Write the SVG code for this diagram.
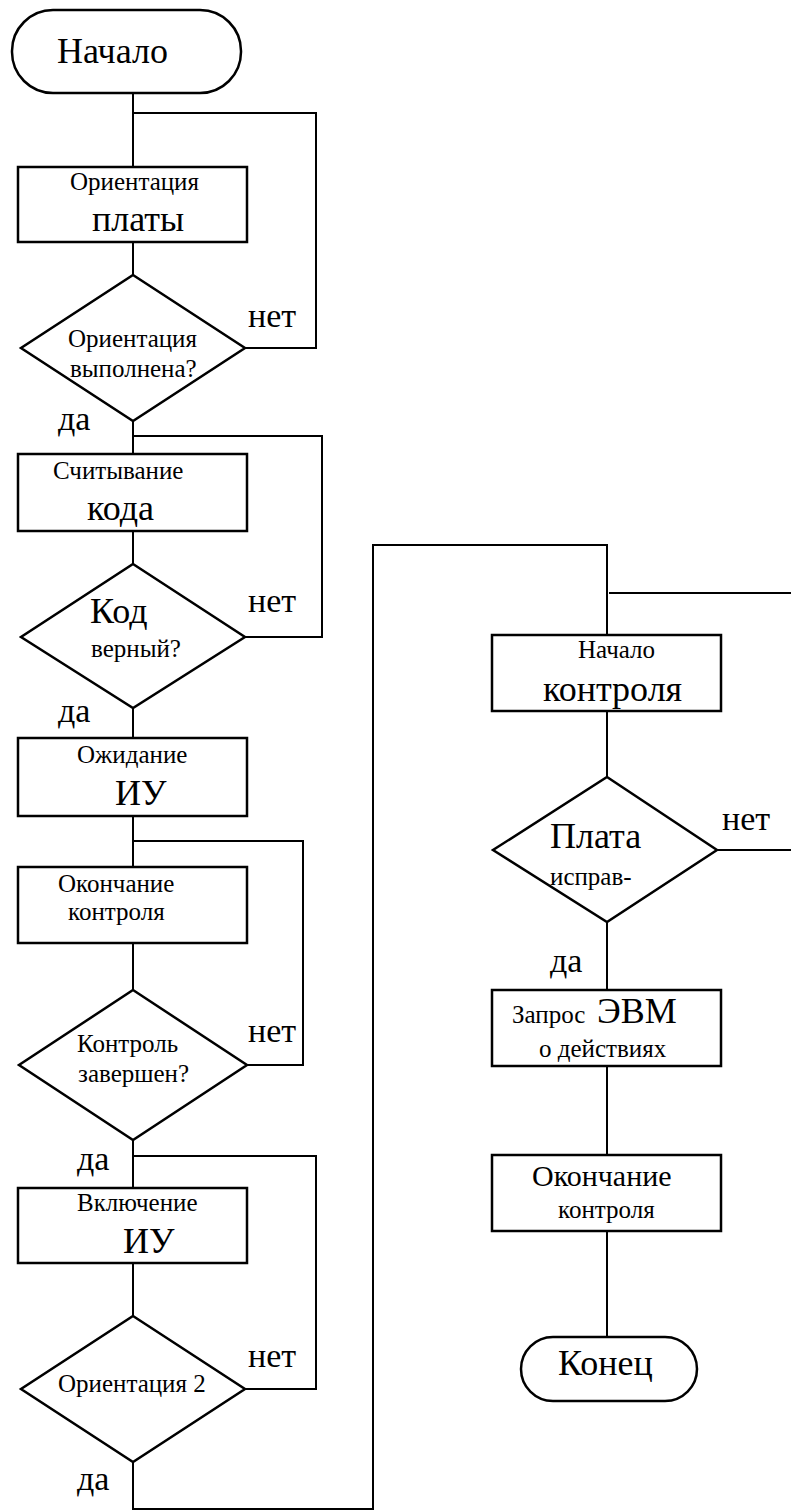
<svg xmlns="http://www.w3.org/2000/svg" width="791" height="1511" viewBox="0 0 791 1511">
<style>
text{font-family:"Liberation Serif","DejaVu Serif",serif;fill:#000}
.s{font-size:25px}
.m{font-size:30px}
.l{font-size:36px}
.lab{font-size:34px}
.box{fill:#fff;stroke:#000;stroke-width:2.5}
.dia{fill:none;stroke:#000;stroke-width:2.5}
.con{fill:none;stroke:#000;stroke-width:2}
</style>
<rect width="791" height="1511" fill="#fff"/>
<g id="connectors">
<path class="con" d="M133 93V167"/>
<path class="con" d="M133 113H316V348H245"/>
<path class="con" d="M133 242V275"/>
<path class="con" d="M133 421V454"/>
<path class="con" d="M133 436H322V637H245"/>
<path class="con" d="M133 531V564"/>
<path class="con" d="M133 708V738"/>
<path class="con" d="M133 816V867"/>
<path class="con" d="M133 841H303V1065H247"/>
<path class="con" d="M133 943V990"/>
<path class="con" d="M133 1140V1188"/>
<path class="con" d="M133 1156H316V1389H245"/>
<path class="con" d="M133 1263V1316"/>
<path class="con" d="M133 1462V1509H373V545H607V635"/>
<path class="con" d="M609 593H791"/>
<path class="con" d="M717 850H791"/>
<path class="con" d="M607 711V777"/>
<path class="con" d="M607 922V990"/>
<path class="con" d="M607 1066V1155"/>
<path class="con" d="M607 1231V1337"/>
<text class="lab" x="248" y="327">нет</text>
<text class="lab" x="58" y="430">да</text>
<text class="lab" x="248" y="612">нет</text>
<text class="lab" x="58" y="722">да</text>
<text class="lab" x="248" y="1042">нет</text>
<text class="lab" x="77" y="1170">да</text>
<text class="lab" x="248" y="1367">нет</text>
<text class="lab" x="77" y="1490">да</text>
<text class="lab" x="722" y="830">нет</text>
<text class="lab" x="550" y="972">да</text>
</g>
<g id="start">
<rect class="box" x="12" y="10" width="229" height="83" rx="41" ry="41"/>
<text class="l" x="57" y="63">Начало</text>
</g>
<g id="box1">
<rect class="box" x="18" y="167" width="229" height="75"/>
<text class="s" x="70" y="190">Ориентация</text>
<text class="l" x="92" y="231">платы</text>
</g>
<g id="dec1">
<polygon class="dia" points="133,275 245,348 133,421 21,348"/>
<text class="s" x="68" y="347">Ориентация</text>
<text class="s" x="70" y="377">выполнена?</text>
</g>
<g id="box2">
<rect class="box" x="18" y="454" width="229" height="77"/>
<text class="s" x="53" y="479">Считывание</text>
<text class="l" x="87" y="520">кода</text>
</g>
<g id="dec2">
<polygon class="dia" points="133,564 245,637 133,708 21,637"/>
<text class="l" x="90" y="623">Код</text>
<text class="s" x="91" y="657">верный?</text>
</g>
<g id="box3">
<rect class="box" x="18" y="738" width="229" height="78"/>
<text class="s" x="77" y="763">Ожидание</text>
<text class="l" x="115" y="805">ИУ</text>
</g>
<g id="box4">
<rect class="box" x="18" y="867" width="229" height="76"/>
<text class="s" x="58" y="892">Окончание</text>
<text class="s" x="68" y="920">контроля</text>
</g>
<g id="dec3">
<polygon class="dia" points="133,990 247,1065 133,1140 19,1065"/>
<text class="s" x="77" y="1052">Контроль</text>
<text class="s" x="78" y="1082">завершен?</text>
</g>
<g id="box5">
<rect class="box" x="18" y="1188" width="229" height="75"/>
<text class="s" x="77" y="1211">Включение</text>
<text class="l" x="123" y="1253">ИУ</text>
</g>
<g id="dec4">
<polygon class="dia" points="133,1316 245,1389 133,1462 21,1389"/>
<text class="s" x="58" y="1392">Ориентация 2</text>
</g>
<g id="box6">
<rect class="box" x="492" y="635" width="229" height="76"/>
<text class="s" x="578" y="658">Начало</text>
<text class="l" x="543" y="701">контроля</text>
</g>
<g id="dec5">
<polygon class="dia" points="607,777 717,850 607,922 493,850"/>
<text class="l" x="550" y="848">Плата</text>
<text class="s" x="550" y="885">исправ-</text>
</g>
<g id="box7">
<rect class="box" x="492" y="990" width="229" height="76"/>
<text class="s" x="512" y="1023">Запрос</text>
<text class="l" x="597" y="1023">ЭВМ</text>
<text class="s" x="539" y="1057">о действиях</text>
</g>
<g id="box8">
<rect class="box" x="492" y="1155" width="229" height="76"/>
<text class="m" x="532" y="1186">Окончание</text>
<text class="s" x="558" y="1218">контроля</text>
</g>
<g id="end">
<rect class="box" x="521" y="1337" width="176" height="64" rx="32" ry="32"/>
<text class="l" x="558" y="1375">Конец</text>
</g>
</svg>
